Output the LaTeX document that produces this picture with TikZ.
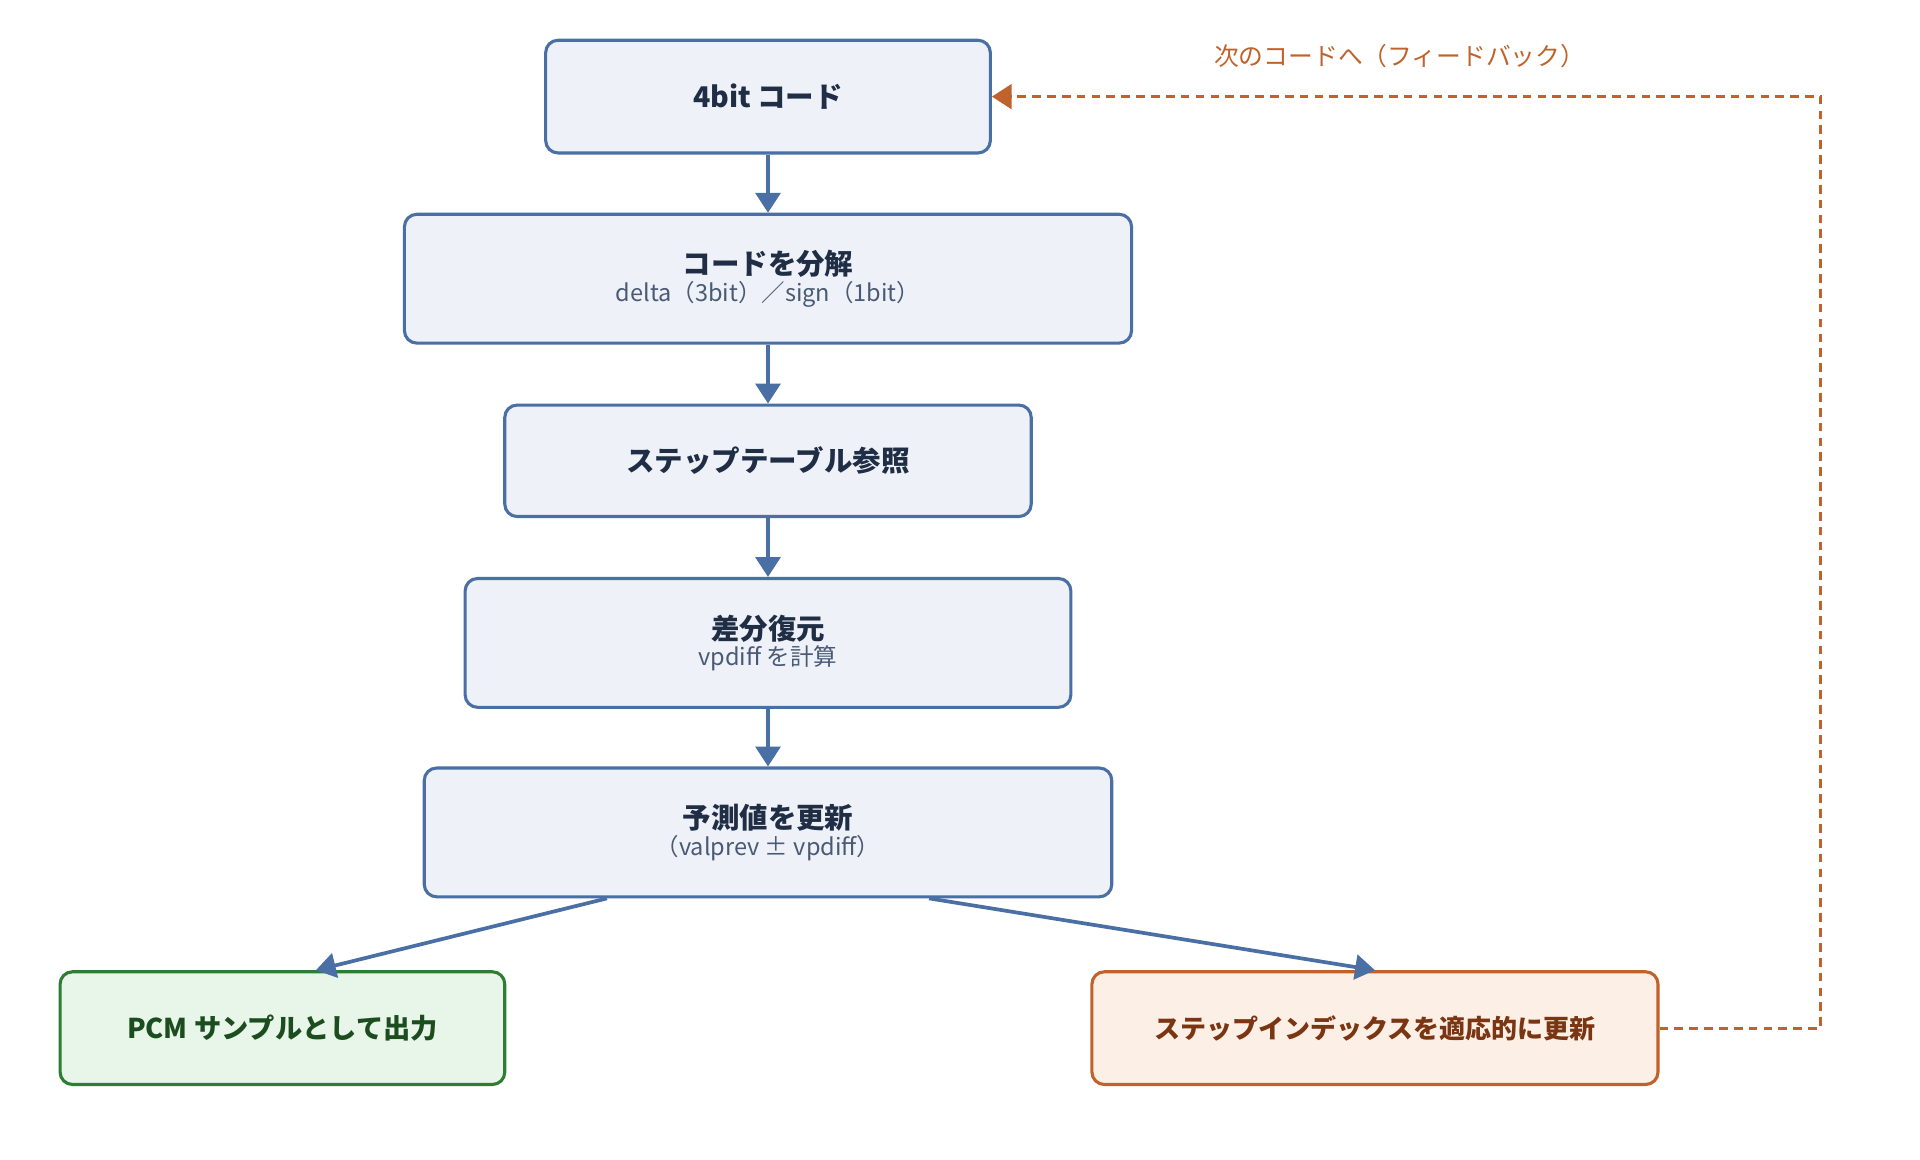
\documentclass[tikz,border=0pt]{standalone}
\usepackage{fontspec}
\setmainfont{Noto Sans CJK JP}
\usetikzlibrary{arrows.meta}
\definecolor{boxfill}{HTML}{EEF2F8}
\definecolor{boxline}{HTML}{4A6FA5}
\definecolor{boxtext}{HTML}{1F2D45}
\definecolor{subtext}{HTML}{4A5A75}
\definecolor{okfill}{HTML}{E8F5E9}
\definecolor{okline}{HTML}{2E7D32}
\definecolor{oktext}{HTML}{1B4D1F}
\definecolor{fbfill}{HTML}{FCF0E6}
\definecolor{fbline}{HTML}{C0622B}
\definecolor{fbtext}{HTML}{7A3512}
\tikzset{
  stepbox/.style={draw=boxline, fill=boxfill, line width=2.5pt, rounded corners=10pt,
    text=boxtext, align=center, inner sep=0pt},
  outbox/.style={stepbox, draw=okline, fill=okfill, text=oktext},
  idxbox/.style={stepbox, draw=fbline, fill=fbfill, text=fbtext},
  flow/.style={draw=boxline, line width=3pt, -{Triangle[length=16pt,width=20pt]}},
  feedback/.style={draw=fbline, line width=2.5pt, dash pattern=on 7pt off 5pt,
    -{Triangle[length=16pt,width=20pt]}},
  ttl/.style={font=\fontsize{23}{28}\selectfont\bfseries},
  sub/.style={font=\fontsize{19}{24}\selectfont, text=subtext}
}
\begin{document}
\begin{tikzpicture}[x=1pt,y=-1pt]
  \useasboundingbox (0,0) rectangle (1550,936);
  % main chain
  \node[stepbox, minimum width=359pt, minimum height=91pt] (code) at (620,78)
    {\fontsize{23}{28}\selectfont\bfseries 4bit コード};
  \node[stepbox, minimum width=587pt, minimum height=104pt] (split) at (620,225)
    {\fontsize{23}{28}\selectfont\bfseries コードを分解\\[2pt]
     {\fontsize{19}{24}\selectfont\mdseries\color{subtext} delta（3bit）／sign（1bit）}};
  \node[stepbox, minimum width=425pt, minimum height=90pt] (table) at (620,372)
    {\fontsize{23}{28}\selectfont\bfseries ステップテーブル参照};
  \node[stepbox, minimum width=489pt, minimum height=104pt] (diff) at (620,519)
    {\fontsize{23}{28}\selectfont\bfseries 差分復元\\[2pt]
     {\fontsize{19}{24}\selectfont\mdseries\color{subtext} vpdiff を計算}};
  \node[stepbox, minimum width=555pt, minimum height=104pt] (pred) at (620,672)
    {\fontsize{23}{28}\selectfont\bfseries 予測値を更新\\[2pt]
     {\fontsize{19}{24}\selectfont\mdseries\color{subtext}（valprev ± vpdiff）}};
  % outputs
  \node[outbox, minimum width=359pt, minimum height=91pt] (pcm) at (228,830)
    {\fontsize{22}{28}\selectfont\bfseries PCM サンプルとして出力};
  \node[idxbox, minimum width=457pt, minimum height=91pt] (idx) at (1110,830)
    {\fontsize{21}{28}\selectfont\bfseries ステップインデックスを適応的に更新};
  \coordinate (fbturn) at (1470,830);
  \coordinate (fbtop) at (1470,78);

  \draw[flow] (code) -- (split);
  \draw[flow] (split) -- (table);
  \draw[flow] (table) -- (diff);
  \draw[flow] (diff) -- (pred);
  \draw[flow] (pred.south -| 490,0) -- (pcm.north -| 255,0);
  \draw[flow] (pred.south -| 750,0) -- (idx.north);
  % feedback loop
  \draw[feedback] (idx.east) -- (fbturn) -- (fbtop) -- (code.east);
  \node[text=fbline, font=\fontsize{20}{24}\selectfont] (fblabel) at (1130,45)
    {次のコードへ（フィードバック）};
\end{tikzpicture}
\end{document}
